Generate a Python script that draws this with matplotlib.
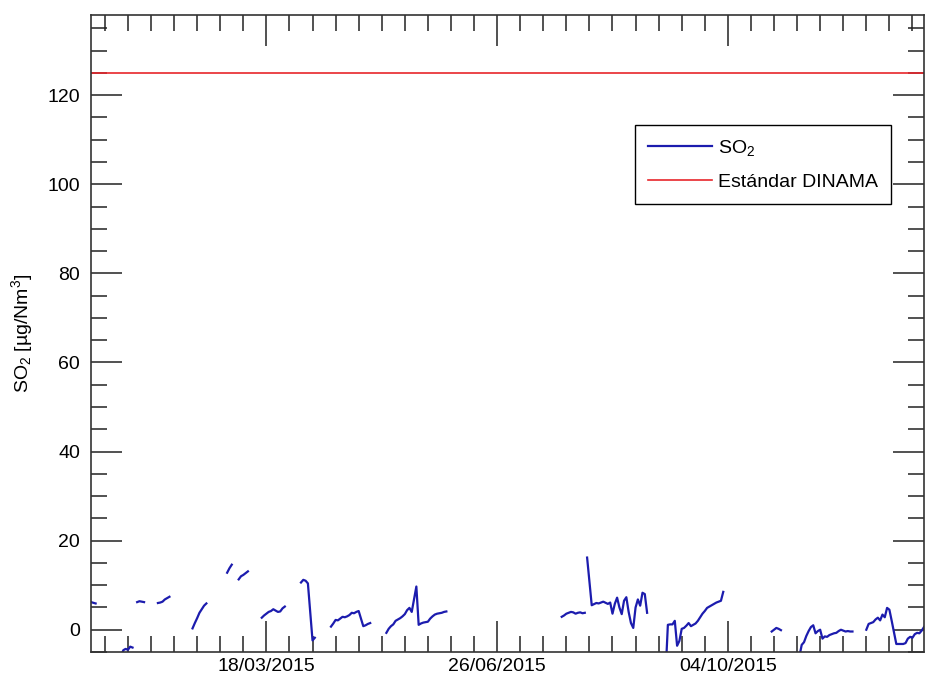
import numpy as np
import pandas as pd
import matplotlib
matplotlib.use("Agg")
import matplotlib.pyplot as plt
import matplotlib.dates as mdates
from matplotlib.ticker import FixedLocator, MultipleLocator

plt.rcParams["font.family"] = ["Liberation Sans", "DejaVu Sans"]
plt.rcParams["mathtext.fontset"] = "custom"
plt.rcParams["mathtext.rm"] = "Liberation Sans"
plt.rcParams["mathtext.it"] = "Liberation Sans:italic"

START = pd.Timestamp("2015-01-01")
END = pd.Timestamp("2015-12-28")

# SO2 readings (ug/Nm3), day offsets from 1 Jan 2015, one tuple per unbroken run
so2_runs = [
    ([0, 2], [6.2, 5.9]),
    ([13, 14, 15, 16, 17, 18], [-6.0, -4.6, -4.3, -4.5, -3.8, -4.0]),
    ([20, 21, 22, 23], [6.2, 6.4, 6.3, 6.2]),
    ([29, 30, 31, 32, 33, 34], [6.0, 6.1, 6.3, 6.8, 7.1, 7.4]),
    ([44, 45, 46, 47, 48, 49, 50], [0.3, 1.5, 2.6, 3.8, 4.6, 5.4, 5.9]),
    ([59, 60, 61], [12.8, 13.8, 14.6]),
    ([64, 65, 66, 67, 68], [11.3, 12.0, 12.3, 12.7, 13.1]),
    ([74, 75, 76, 77, 78, 79, 80, 81, 82, 83, 84],
     [2.7, 3.2, 3.6, 4.0, 4.2, 4.6, 4.3, 4.0, 4.1, 4.8, 5.2]),
    ([91, 92, 93, 94, 96, 97], [10.6, 11.2, 11.0, 10.4, -2.4, -1.8]),
    ([104, 105, 106, 107, 108, 109, 110, 111, 112, 113, 114, 115, 116, 118, 119, 120, 121],
     [0.7, 1.4, 2.2, 2.1, 2.5, 2.9, 2.8, 3.0, 3.3, 3.8, 3.7, 4.0, 4.2, 0.8, 1.0, 1.3, 1.5]),
    ([128, 129, 130, 131, 132, 133, 134, 135, 136, 137, 138, 139, 141, 142,
      143, 144, 145, 146, 147, 148, 149, 150, 151, 152, 153, 154],
     [-0.7, 0.2, 0.8, 1.2, 2.0, 2.3, 2.6, 3.0, 3.5, 4.4, 4.9, 4.0, 9.7, 1.1,
      1.4, 1.6, 1.7, 1.8, 2.5, 3.0, 3.4, 3.6, 3.7, 3.8, 4.0, 4.1]),
    ([204, 205, 206, 207, 208, 209, 210, 211, 212, 213, 214],
     [2.9, 3.2, 3.6, 3.8, 4.0, 3.9, 3.6, 3.8, 3.9, 3.7, 3.8]),
    ([215, 217, 219, 220, 222, 224, 225, 226, 227, 228, 229, 230, 231, 232,
      233, 234, 235, 236, 237, 238, 239, 240, 241],
     [16.2, 5.5, 6.0, 5.9, 6.3, 5.8, 6.1, 3.6, 5.8, 7.2, 5.0, 3.5, 6.5, 7.3,
      4.0, 1.5, 0.4, 5.0, 6.8, 5.4, 8.3, 8.0, 3.8]),
    ([249, 250, 251, 252, 253, 254, 255, 256, 257, 258, 259, 260, 261, 262,
      263, 264, 265, 266, 267, 268, 269, 270, 271, 272, 273, 274],
     [-10.0, 1.1, 1.2, 1.2, 2.0, -3.6, -2.5, 0.2, 0.4, 0.9, 1.5, 0.8, 1.1, 1.4,
      2.0, 2.8, 3.6, 4.2, 4.9, 5.2, 5.5, 5.8, 6.1, 6.3, 6.5, 8.5]),
    ([295, 296, 297, 298, 299], [-0.4, 0.0, 0.4, 0.2, -0.1]),
    ([307, 308, 309, 310, 311, 312, 313, 314, 315, 316, 317, 318, 319, 320,
      321, 322, 323, 324, 325, 326, 327, 328, 329, 330],
     [-6.0, -3.4, -2.8, -1.4, -0.3, 0.6, 1.0, -0.8, -0.3, 0.0, -2.0, -1.5, -1.6, -1.2,
      -1.0, -0.8, -0.7, -0.3, 0.0, -0.2, -0.4, -0.3, -0.4, -0.4]),
    ([336, 337, 338, 339, 340, 341, 342, 343, 344, 345, 346, 347, 349, 350,
      351, 352, 353, 354, 355, 356, 357, 358, 359, 360, 361],
     [0.0, 1.3, 1.5, 1.7, 2.3, 2.7, 2.1, 3.4, 2.8, 4.9, 4.5, 2.0, -3.2, -3.2,
      -3.2, -3.2, -3.0, -2.0, -1.6, -1.8, -1.0, -0.7, -0.8, -0.2, 0.6]),
]
dinama_std = 125

days, vals = [], []
for d, v in so2_runs:
    days += list(d) + [d[-1] + 0.5]
    vals += list(v) + [np.nan]
dates = START + pd.to_timedelta(np.array(days, dtype=float), unit="D")

fig = plt.figure(figsize=(9.25, 6.77), dpi=100)
ax = fig.add_axes([91 / 925, 25 / 677, 833 / 925, 637 / 677])

ax.plot(dates, vals, color="#1c1cae", lw=1.6, label="SO$_2$")
ax.plot([START, END], [dinama_std, dinama_std], color="#e8262b", lw=1.2,
        label="Estándar DINAMA")

ax.set_xlim(START, END)
ax.set_ylim(-5, 138)

major = pd.date_range("2015-03-18", periods=3, freq="100D")
minor = pd.date_range("2015-01-07", END, freq="10D")
ax.xaxis.set_major_locator(FixedLocator(mdates.date2num(major)))
ax.xaxis.set_minor_locator(FixedLocator(mdates.date2num(minor)))
ax.xaxis.set_major_formatter(mdates.DateFormatter("%d/%m/%Y"))
ax.yaxis.set_major_locator(MultipleLocator(20))
ax.yaxis.set_minor_locator(MultipleLocator(5))

ax.tick_params(which="both", direction="in", top=True, right=True,
               colors="#222222", labelcolor="black", labelsize=14)
ax.tick_params(which="major", length=22, width=1.1)
ax.tick_params(which="minor", length=11.5, width=1.1)
ax.tick_params(axis="y", pad=8)
ax.tick_params(axis="x", pad=4)
for s in ax.spines.values():
    s.set_color("#333333")
    s.set_linewidth(1.2)

ax.set_ylabel("SO$_2$ [µg/Nm$^3$]", fontsize=14, labelpad=9)

leg = ax.legend(loc="upper right", bbox_to_anchor=(0.960, 0.827),
                borderaxespad=0, fancybox=False, edgecolor="black",
                fontsize=14, handlelength=3.3, handletextpad=0.3,
                labelspacing=0.8, borderpad=0.65, framealpha=1)
leg.get_frame().set_linewidth(1.0)

fig.savefig("out.png", dpi=100)
